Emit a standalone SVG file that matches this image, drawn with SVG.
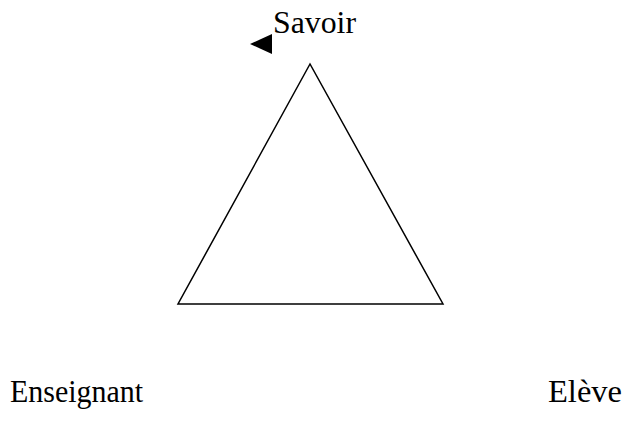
<svg xmlns="http://www.w3.org/2000/svg" width="637" height="423" viewBox="0 0 637 423">
<style>
.lbl{font-family:'Liberation Serif','DejaVu Serif',serif;font-size:31px;fill:#000}
.edge{fill:none;stroke:#000;stroke-width:1.5}
</style>
<rect width="637" height="423" fill="#fff"/>
<g id="connectors">
<polygon class="edge" points="310,64 178,304 443,304" stroke-linejoin="miter"/>
<polygon points="250,44 272,34 272,54" fill="#000"/>
</g>
<g id="savoir"><text class="lbl" x="273" y="33" textLength="83" lengthAdjust="spacingAndGlyphs">Savoir</text></g>
<g id="enseignant"><text class="lbl" x="10" y="402" textLength="133" lengthAdjust="spacingAndGlyphs">Enseignant</text></g>
<g id="eleve"><text class="lbl" x="548" y="402" textLength="74" lengthAdjust="spacingAndGlyphs">Elève</text></g>
</svg>
